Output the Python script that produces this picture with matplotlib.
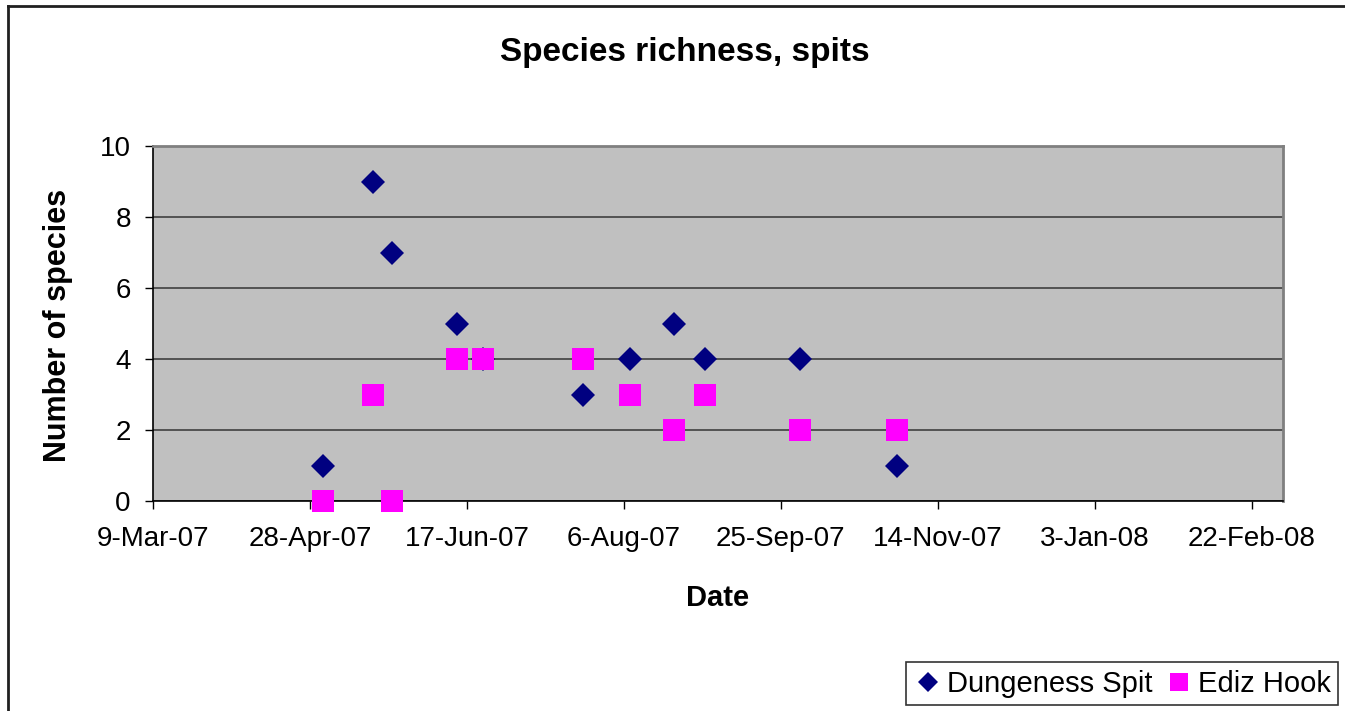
import matplotlib
matplotlib.use("Agg")
import matplotlib.pyplot as plt
import matplotlib.dates as mdates
from matplotlib.lines import Line2D
import datetime as dt

plt.rcParams['font.family'] = ['Liberation Sans', 'DejaVu Sans']

# sampling dates (same for both spits)
dates = ['2007-05-02', '2007-05-18', '2007-05-24', '2007-06-14', '2007-06-22',
         '2007-07-24', '2007-08-08', '2007-08-22', '2007-09-01', '2007-10-01',
         '2007-11-01']
dungeness = [1, 9, 7, 5, 4, 3, 4, 5, 4, 4, 1]
ediz = [0, 3, 0, 4, 4, 4, 3, 2, 3, 2, 2]

tick_dates = ['2007-03-09', '2007-04-28', '2007-06-17', '2007-08-06',
              '2007-09-25', '2007-11-14', '2008-01-03', '2008-02-22']
tick_labels = ['9-Mar-07', '28-Apr-07', '17-Jun-07', '6-Aug-07',
               '25-Sep-07', '14-Nov-07', '3-Jan-08', '22-Feb-08']
x_min, x_max = '2007-03-09', '2008-03-03'
y_ticks = [0, 2, 4, 6, 8, 10]


def to_num(ds):
    return [mdates.date2num(dt.datetime.strptime(d, '%Y-%m-%d')) for d in ds]


fig = plt.figure(figsize=(13.45, 7.11), dpi=100)
ax = fig.add_axes([153 / 1345, 1 - 501 / 711, 1130 / 1345, 355 / 711])
ax.set_facecolor('#c0c0c0')

x = to_num(dates)
ax.plot(x, dungeness, linestyle='none', marker='D', markersize=12,
        color='#000080', markeredgewidth=0, label='Dungeness Spit',
        clip_on=False, zorder=3)
ax.plot(x, ediz, linestyle='none', marker='s', markersize=16,
        color='#ff00ff', markeredgewidth=0, label='Ediz Hook',
        clip_on=False, zorder=4)

ax.set_xlim(to_num([x_min])[0], to_num([x_max])[0])
ax.set_ylim(0, 10)
ax.set_xticks(to_num(tick_dates))
ax.set_xticklabels(tick_labels)
ax.set_yticks(y_ticks)
ax.yaxis.grid(True, color='#404040', linewidth=1.2)
ax.set_axisbelow(True)
ax.tick_params(axis='both', direction='out', length=6, width=1,
               labelsize=20, colors='black')
ax.tick_params(axis='y', pad=10)
ax.tick_params(axis='x', pad=12)

for s in ['top', 'right']:
    ax.spines[s].set_color('#808080')
    ax.spines[s].set_linewidth(2)
for s in ['left', 'bottom']:
    ax.spines[s].set_color('black')
    ax.spines[s].set_linewidth(1.2)

fig.text(685 / 1345, 1 - 52 / 711, 'Species richness, spits', fontsize=24,
         fontweight='bold', ha='center', va='center')
fig.text(718 / 1345, 1 - 598 / 711, 'Date', fontsize=21, fontweight='bold',
         ha='center', va='center')
fig.text(58 / 1345, 1 - 325 / 711, 'Number of species', fontsize=22,
         fontweight='bold', ha='center', va='center', rotation=90)

leg = ax.legend(loc='lower right', bbox_to_anchor=(1338 / 1345, 6 / 711),
                bbox_transform=fig.transFigure, ncol=2, fontsize=21,
                frameon=True, fancybox=False, borderaxespad=0,
                handletextpad=0.15, columnspacing=0.4, handlelength=1.0,
                borderpad=0.25, markerscale=0.85)
leg.get_frame().set_edgecolor('black')
leg.get_frame().set_linewidth(1.2)

# outer chart frame (only top and left visible in the original crop)
fig.add_artist(Line2D([8 / 1345, 8 / 1345], [0, 1 - 5.5 / 711],
                      transform=fig.transFigure, color='#202020', linewidth=2))
fig.add_artist(Line2D([8 / 1345, 1], [1 - 5.5 / 711, 1 - 5.5 / 711],
                      transform=fig.transFigure, color='#202020', linewidth=2))

fig.savefig('out.png', dpi=100)
